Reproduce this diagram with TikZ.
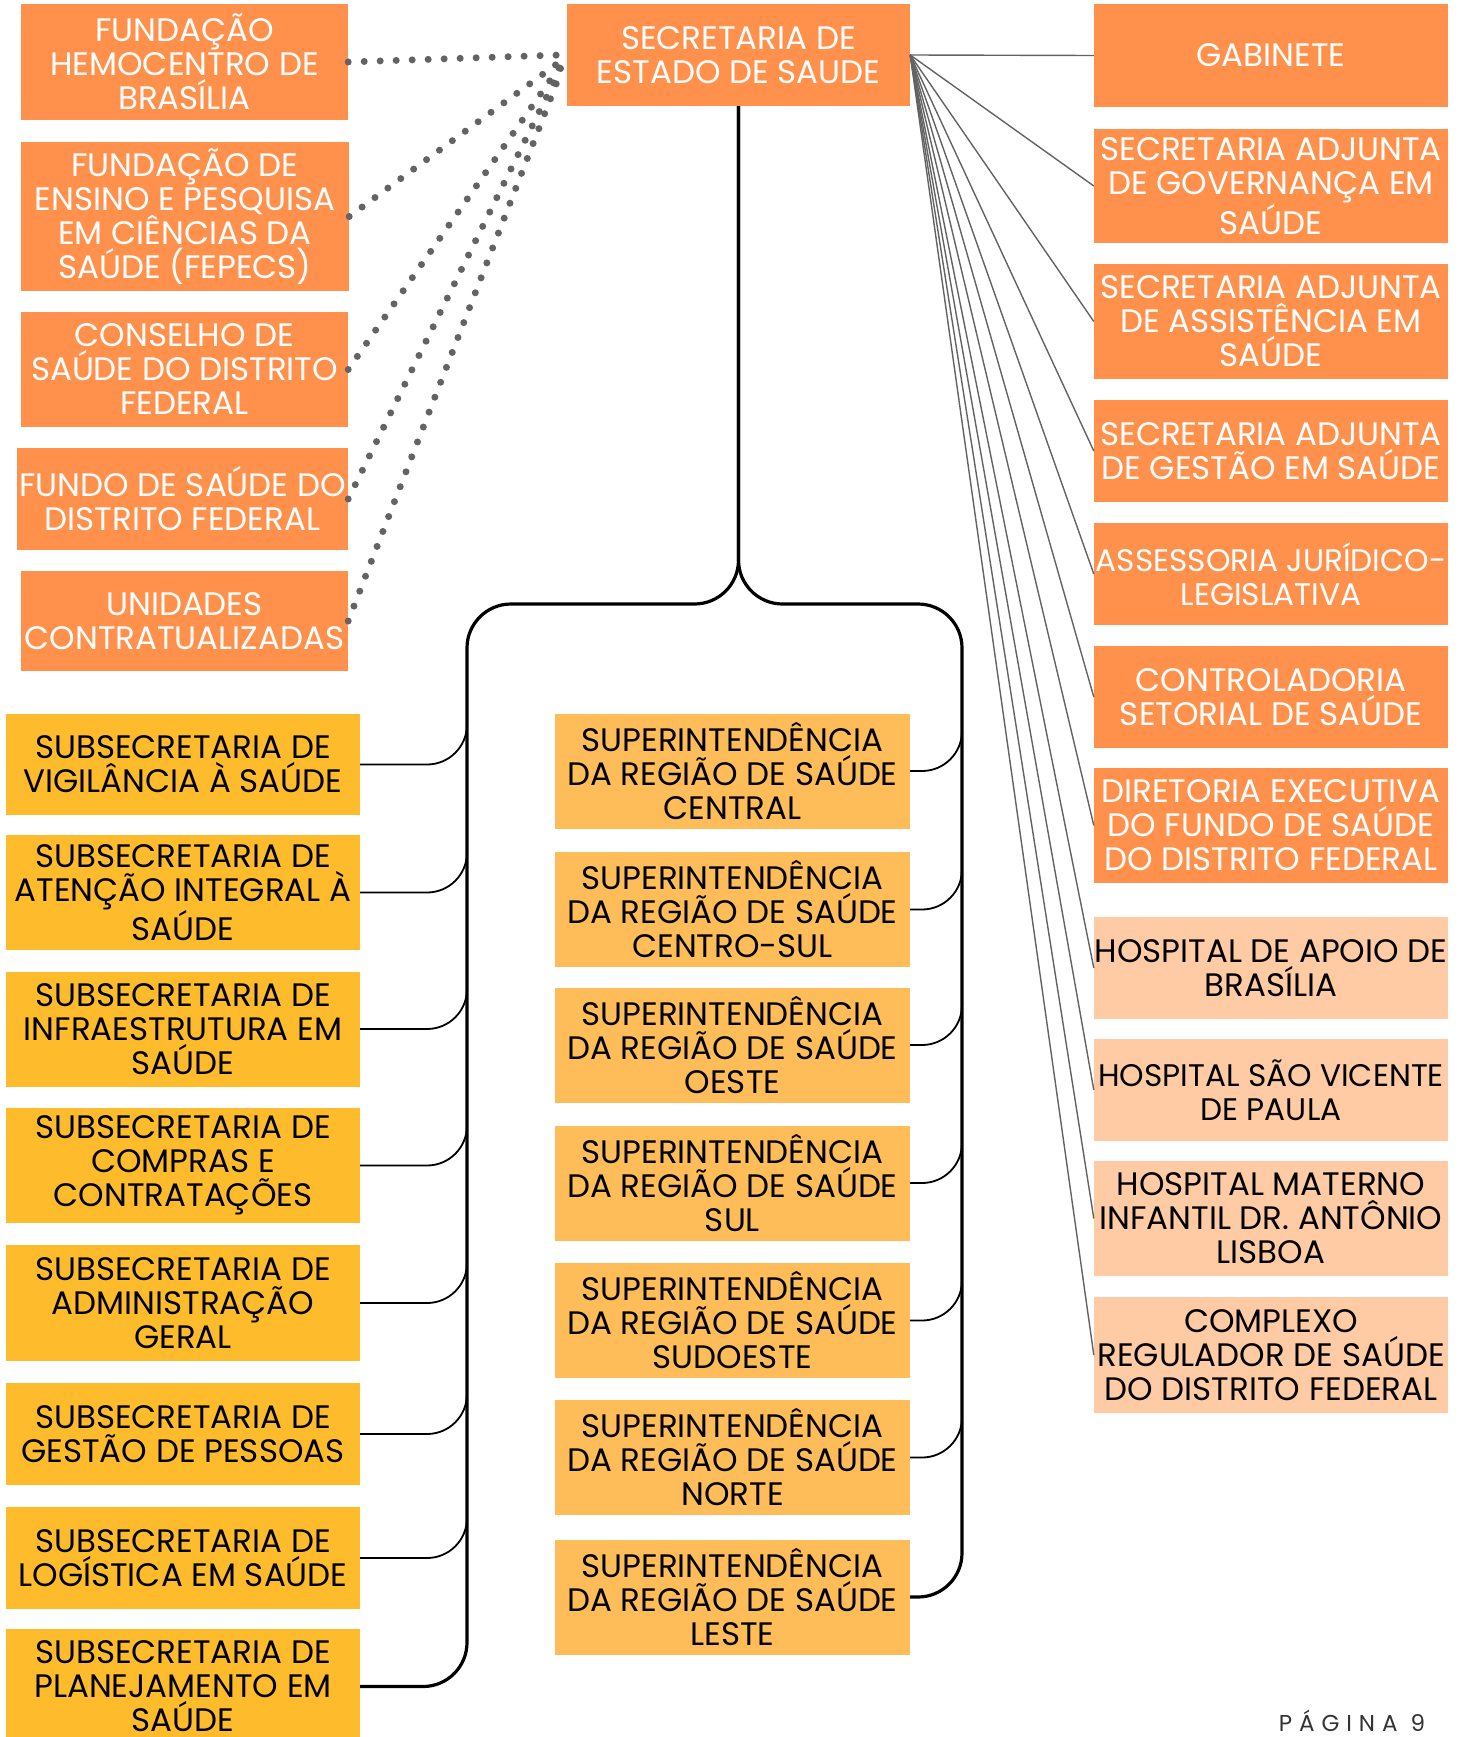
\documentclass[tikz,border=0pt]{standalone}
\usepackage{fontspec}
\setmainfont{Poppins}
\usepackage{tikz}

\definecolor{sesorange}{HTML}{FF914D}
\definecolor{subyellow}{HTML}{FEBC2C}
\definecolor{supyellow}{HTML}{FFBD59}
\definecolor{hosppeach}{HTML}{FFCBA4}
\definecolor{linkgray}{HTML}{636363}

\begin{document}
\begin{tikzpicture}[x=1pt,y=-1pt,
  base/.style={inner sep=0pt, align=center, font=\fontsize{32.5}{34}\selectfont},
  narrow/.style={font=\fontsize{31.2}{34}\selectfont},
  orangebox/.style={base, fill=sesorange, text=white, minimum width=327, minimum height=102},
  rightbox/.style={base, fill=sesorange, text=white, minimum width=354, minimum height=102},
  hospbox/.style={base, fill=hosppeach, text=black, minimum width=354, minimum height=102},
  subbox/.style={base, fill=subyellow, text=black, minimum width=354, minimum height=115},
  supbox/.style={base, fill=supyellow, text=black, minimum width=355, minimum height=115},
  dotline/.style={linkgray, line width=7pt, line cap=round, dash pattern=on 0pt off 16pt},
  fanline/.style={linkgray, line width=1.4pt},
  trunk/.style={black, line width=3.2pt, rounded corners=44},
  branch/.style={black, line width=1.8pt, rounded corners=40}]
\path[use as bounding box, fill=white] (0,0) rectangle (1466,1737);

% head
\node[base, fill=sesorange, text=white, minimum width=343, minimum height=102](secretaria) at (738.5,55){SECRETARIA DE\\ESTADO DE SAUDE};

% linked bodies, left
\node[orangebox, minimum height=116](hemo) at (184.5,62){FUNDAÇÃO\\HEMOCENTRO DE\\BRASÍLIA};
\node[orangebox, minimum width=328, minimum height=149](fepecs) at (185,216.5){FUNDAÇÃO DE\\ENSINO E PESQUISA\\EM CIÊNCIAS DA\\SAÚDE (FEPECS)};
\node[orangebox, minimum height=115](conselho) at (184.5,369.5){CONSELHO DE\\SAÚDE DO DISTRITO\\FEDERAL};
\node[orangebox, minimum width=331](fundo) at (182.5,499){FUNDO DE SAÚDE DO\\DISTRITO FEDERAL};
\node[orangebox, minimum height=100](unidades) at (184.5,621){UNIDADES\\CONTRATUALIZADAS};

% right column
\node[rightbox, minimum height=103](gabinete) at (1271,55.5){GABINETE};
\node[rightbox, minimum height=114](governanca) at (1271,186){SECRETARIA ADJUNTA\\DE GOVERNANÇA EM\\SAÚDE};
\node[rightbox, minimum height=115](assistencia) at (1271,321.5){SECRETARIA ADJUNTA\\DE ASSISTÊNCIA EM\\SAÚDE};
\node[rightbox](gestao) at (1271,451){SECRETARIA ADJUNTA\\DE GESTÃO EM SAÚDE};
\node[rightbox, narrow](assessoria) at (1271,574){ASSESSORIA JURÍDICO-\\LEGISLATIVA};
\node[rightbox](controladoria) at (1271,697){CONTROLADORIA\\SETORIAL DE SAÚDE};
\node[rightbox, minimum height=115](diretoria) at (1271,825.5){DIRETORIA EXECUTIVA\\DO FUNDO DE SAÚDE\\DO DISTRITO FEDERAL};
\node[hospbox](hapoio) at (1271,968){HOSPITAL DE APOIO DE\\BRASÍLIA};
\node[hospbox, narrow](hsvp) at (1271,1090){HOSPITAL SÃO VICENTE\\DE PAULA};
\node[hospbox, minimum height=115](hmaterno) at (1271,1218.5){HOSPITAL MATERNO\\INFANTIL DR. ANTÔNIO\\LISBOA};
\node[hospbox, minimum height=116](complexo) at (1271,1355){COMPLEXO\\REGULADOR DE SAÚDE\\DO DISTRITO FEDERAL};

% subsecretarias
\node[subbox, minimum height=101](vigilancia) at (183,764.5){SUBSECRETARIA DE\\VIGILÂNCIA À SAÚDE};
\node[subbox](atencao) at (183,892.5){SUBSECRETARIA DE\\ATENÇÃO INTEGRAL À\\SAÚDE};
\node[subbox](infra) at (183,1029){SUBSECRETARIA DE\\INFRAESTRUTURA EM\\SAÚDE};
\node[subbox](compras) at (183,1165.5){SUBSECRETARIA DE\\COMPRAS E\\CONTRATAÇÕES};
\node[subbox, minimum height=116](adm) at (183,1303){SUBSECRETARIA DE\\ADMINISTRAÇÃO\\GERAL};
\node[subbox, minimum height=102](pessoas) at (183,1434){SUBSECRETARIA DE\\GESTÃO DE PESSOAS};
\node[subbox, minimum height=102](logistica) at (183,1558){SUBSECRETARIA DE\\LOGÍSTICA EM SAÚDE};
\node[subbox](planej) at (183,1686.5){SUBSECRETARIA DE\\PLANEJAMENTO EM\\SAÚDE};

% superintendencias
\node[supbox](central) at (732.5,771){SUPERINTENDÊNCIA\\DA REGIÃO DE SAÚDE\\CENTRAL};
\node[supbox](centrosul) at (732.5,909.5){SUPERINTENDÊNCIA\\DA REGIÃO DE SAÚDE\\CENTRO-SUL};
\node[supbox](oeste) at (732.5,1045){SUPERINTENDÊNCIA\\DA REGIÃO DE SAÚDE\\OESTE};
\node[supbox](sul) at (732.5,1183){SUPERINTENDÊNCIA\\DA REGIÃO DE SAÚDE\\SUL};
\node[supbox](sudoeste) at (732.5,1320.5){SUPERINTENDÊNCIA\\DA REGIÃO DE SAÚDE\\SUDOESTE};
\node[supbox](norte) at (732.5,1457.5){SUPERINTENDÊNCIA\\DA REGIÃO DE SAÚDE\\NORTE};
\node[supbox](leste) at (732.5,1597){SUPERINTENDÊNCIA\\DA REGIÃO DE SAÚDE\\LESTE};

\node[font=\fontsize{23}{26}\selectfont\addfontfeature{LetterSpace=30}, text=black!80](pagina) at (1352,1721){PÁGINA 9};

% dotted links
\foreach \n/\dy in {hemo/0,fepecs/6,conselho/10,fundo/13,unidades/17}
  \draw[dotline] (\n.east) -- ([xshift=-6pt,yshift=-\dy pt]secretaria.west);

% fan to the right
\foreach \n in {gabinete,governanca,assistencia,gestao,assessoria,controladoria,diretoria,hapoio,hsvp,hmaterno,complexo}
  \draw[fanline] (secretaria.east) -- (\n.west);

% brace
\coordinate (lrail) at (467,604);
\coordinate (rrail) at (962,604);
\coordinate (ltop) at (467,670);
\coordinate (rtop) at (962,670);
\draw[trunk] (secretaria.south) |- (lrail) |- (planej.east);
\draw[trunk] (secretaria.south) |- (rrail) |- (leste.east);
\foreach \n in {vigilancia,atencao,infra,compras,adm,pessoas,logistica}
  \draw[branch] (\n.east) -| (ltop);
\foreach \n in {central,centrosul,oeste,sul,sudoeste,norte}
  \draw[branch] (\n.east) -| (rtop);
\end{tikzpicture}
\end{document}
